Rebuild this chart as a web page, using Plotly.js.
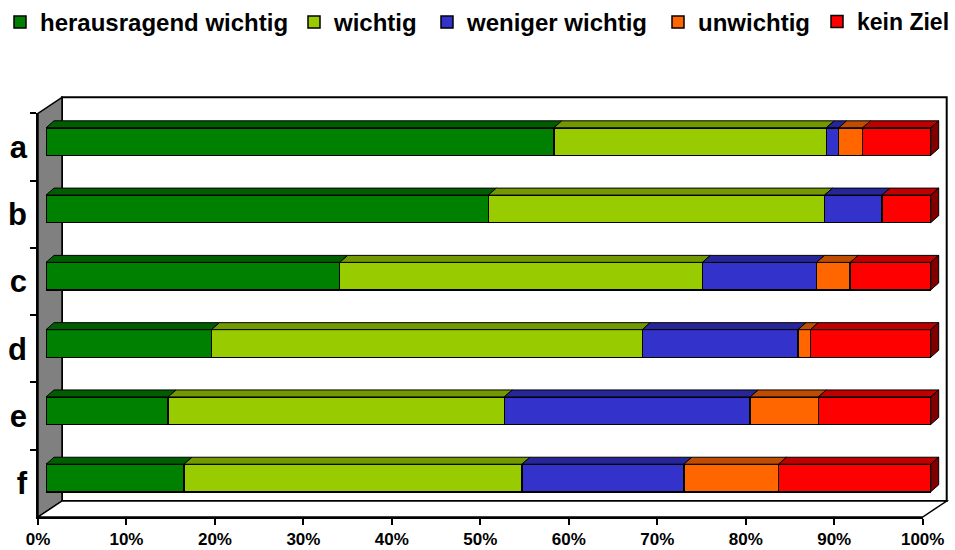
<!DOCTYPE html>
<html>
<head>
<meta charset="utf-8">
<script src="https://cdn.plot.ly/plotly-3.0.1.min.js"></script>
<style>
  html, body { margin: 0; padding: 0; background: #ffffff; }
  #chart { width: 955px; height: 550px; }
</style>
</head>
<body>
<div id="chart"></div>
<script>
// Rows (questions) and the share of answers per rating, in percent
const rows = ['a', 'b', 'c', 'd', 'e', 'f'];
const seriesNames = ['herausragend wichtig', 'wichtig', 'weniger wichtig', 'unwichtig', 'kein Ziel'];
const herausragendWichtig = [57.4, 50.0, 33.2, 18.7, 13.8, 15.6];
const wichtig            = [30.8, 38.0, 41.0, 48.7, 38.0, 38.2];
const wenigerWichtig     = [1.4, 6.5, 12.9, 17.6, 27.8, 18.3];
const unwichtig          = [2.7, 0.0, 3.8, 1.4, 7.7, 10.7];
const keinZiel           = [7.7, 5.5, 9.1, 13.6, 12.7, 17.2];
const tickValues = [0, 10, 20, 30, 40, 50, 60, 70, 80, 90, 100];
const tickLabels = tickValues.map(v => v + '%');

const seriesValues = [herausragendWichtig, wichtig, wenigerWichtig, unwichtig, keinZiel];
const faceColors = ['#008000', '#99cc00', '#3333cc', '#ff6600', '#ff0000'];
const topColors  = ['#005e00', '#739900', '#262699', '#bf4c00', '#bf0000'];
const sideColor  = '#800000';

// ---- geometry of the pseudo-3D frame (pixels) ----
const W = 955, H = 550;
const M = { l: 38, r: 8, t: 96, b: 33 };
const plotW = W - M.l - M.r, plotH = H - M.t - M.b;
const frontLeft = 38, frontRight = 922.7;    // front axis 0% .. 100%
const frontTop = 113.3, frontBottom = 517;   // front axis category span
const depthX = 24, depthY = 16;              // depth of the box
const barShiftX = depthX / 3, barShiftY = depthY / 3;
const barDepthX = 8, barDepthY = 7;          // visible depth of every bar
const barWidth = 0.41;

// left edge of each legend entry's text, and its font size
const legendTextX = [33, 333, 466, 697, 856];
const legendSize = [24, 24, 24, 24, 23];

const px = x => (x - M.l) / plotW;           // pixel -> paper x
const py = y => (M.t + plotH - y) / plotH;   // pixel -> paper y
const pxPerPct = (frontRight - frontLeft) / 100;
const pxPerRow = (frontBottom - frontTop) / rows.length;

// bar plane axes (shifted one third into the depth)
const barLeft = frontLeft + barShiftX;
const barTop = frontTop - barShiftY;
const barBottom = frontBottom - barShiftY;
const xBarRange = [0, (M.l + plotW - barLeft) / pxPerPct];
const yBarRange = [rows.length - 0.5, -0.5 - (barTop - M.t) / pxPerRow];

const rowIdx = rows.map((_, i) => i);
const dxData = barDepthX / pxPerPct;
const dyData = barDepthY / pxPerRow;

const traces = [];
const legendIds = seriesNames.map((_, s) => s === 0 ? 'legend' : 'legend' + (s + 1));

// front faces of the stacked bars
seriesValues.forEach((vals, s) => {
  traces.push({
    type: 'bar', orientation: 'h', name: seriesNames[s], legend: legendIds[s],
    x: vals, y: rowIdx, width: barWidth,
    customdata: rows,
    xaxis: 'x', yaxis: 'y',
    marker: { color: faceColors[s], line: { color: '#000000', width: 1.5 } },
    hovertemplate: '%{customdata}: %{x}%<extra>' + seriesNames[s] + '</extra>'
  });
});

// top faces, built from the cumulative stack of every row
const cum = rows.map(() => 0);
seriesValues.forEach((vals, s) => {
  const xs = [], ys = [];
  vals.forEach((v, i) => {
    const x0 = cum[i], x1 = cum[i] + v;
    cum[i] = x1;
    if (v <= 0) return;
    const yT = i - barWidth / 2;
    xs.push(x0, x1, x1 + dxData, x0 + dxData, x0, null);
    ys.push(yT, yT, yT - dyData, yT - dyData, yT, null);
  });
  traces.push({
    type: 'scatter', mode: 'lines', x: xs, y: ys, xaxis: 'x', yaxis: 'y',
    fill: 'toself', fillcolor: topColors[s],
    line: { color: '#000000', width: 1 },
    showlegend: false, hoverinfo: 'skip'
  });
});

// right-hand end faces at the stack totals
{
  const xs = [], ys = [];
  cum.forEach((total, i) => {
    const yT = i - barWidth / 2, yB = i + barWidth / 2;
    xs.push(total, total + dxData, total + dxData, total, total, null);
    ys.push(yT, yT - dyData, yB - dyData, yB, yT, null);
  });
  traces.push({
    type: 'scatter', mode: 'lines', x: xs, y: ys, xaxis: 'x', yaxis: 'y',
    fill: 'toself', fillcolor: sideColor,
    line: { color: '#000000', width: 1 },
    showlegend: false, hoverinfo: 'skip'
  });
}

// carrier for the category labels on the front axis
traces.push({
  type: 'scatter', mode: 'markers', x: rows.map(() => 0), y: rows,
  xaxis: 'x2', yaxis: 'y2', marker: { opacity: 0 },
  showlegend: false, hoverinfo: 'skip'
});

// box: back wall, left wall and floor
const backL = frontLeft + depthX, backR = frontRight + depthX;
const backT = frontTop - depthY, backB = frontBottom - depthY;
const path = pts => 'M' + pts.map(p => px(p[0]) + ',' + py(p[1])).join('L') + 'Z';
const shapes = [
  { type: 'rect', xref: 'paper', yref: 'paper', layer: 'below',
    x0: px(backL), x1: px(backR), y0: py(backB), y1: py(backT),
    fillcolor: '#ffffff', line: { color: '#000000', width: 2 } },
  { type: 'path', xref: 'paper', yref: 'paper', layer: 'below',
    path: path([[frontLeft, frontBottom], [frontLeft, frontTop], [backL, backT], [backL, backB]]),
    fillcolor: '#808080', line: { color: '#000000', width: 1.5 } },
  { type: 'path', xref: 'paper', yref: 'paper', layer: 'below',
    path: path([[frontLeft, frontBottom], [frontRight, frontBottom], [backR, backB], [backL, backB]]),
    fillcolor: '#ffffff', line: { color: '#000000', width: 1.5 } }
];

const font = 'Liberation Sans, Arial, Helvetica, sans-serif';

const layout = {
  width: W, height: H,
  margin: M,
  paper_bgcolor: '#ffffff', plot_bgcolor: 'rgba(0,0,0,0)',
  barmode: 'stack',
  showlegend: true,
  xaxis: {
    domain: [px(barLeft), 1], range: xBarRange, anchor: 'y',
    visible: false, showgrid: false, zeroline: false, fixedrange: true
  },
  yaxis: {
    domain: [py(barBottom), 1], range: yBarRange, anchor: 'x',
    visible: false, showgrid: false, zeroline: false, fixedrange: true
  },
  xaxis2: {
    domain: [px(frontLeft), px(frontRight)], range: [0, 100], anchor: 'y2',
    tickvals: tickValues, ticktext: tickLabels,
    showline: true, linecolor: '#000000', linewidth: 1.5,
    ticks: 'outside', ticklen: 6, tickwidth: 1.5, tickcolor: '#000000',
    tickfont: { family: font, size: 17, color: '#000000', weight: 'bold' },
    showgrid: false, zeroline: false, fixedrange: true
  },
  yaxis2: {
    domain: [py(frontBottom), py(frontTop)], anchor: 'x2',
    type: 'category', categoryarray: rows, range: [rows.length - 0.5, -0.5],
    tickson: 'boundaries', ticklabelstandoff: 3,
    showline: true, linecolor: '#000000', linewidth: 1.5,
    ticks: 'outside', ticklen: 6, tickwidth: 1.5, tickcolor: '#000000',
    tickfont: { family: font, size: 31, color: '#000000', weight: 'bold' },
    showgrid: false, zeroline: false, fixedrange: true
  },
  shapes: shapes
};

// one single-entry legend per series, placed along the top edge
legendIds.forEach((id, s) => {
  layout[id] = {
    orientation: 'h', xref: 'container', yref: 'container',
    x: (legendTextX[s] - 39) / W, y: 1, xanchor: 'left', yanchor: 'top',
    bgcolor: 'rgba(0,0,0,0)',
    font: { family: font, size: legendSize[s], color: '#000000', weight: 'bold' },
    itemclick: false, itemdoubleclick: false
  };
});

Plotly.newPlot('chart', traces, layout, { displayModeBar: false, responsive: false });
</script>
</body>
</html>
